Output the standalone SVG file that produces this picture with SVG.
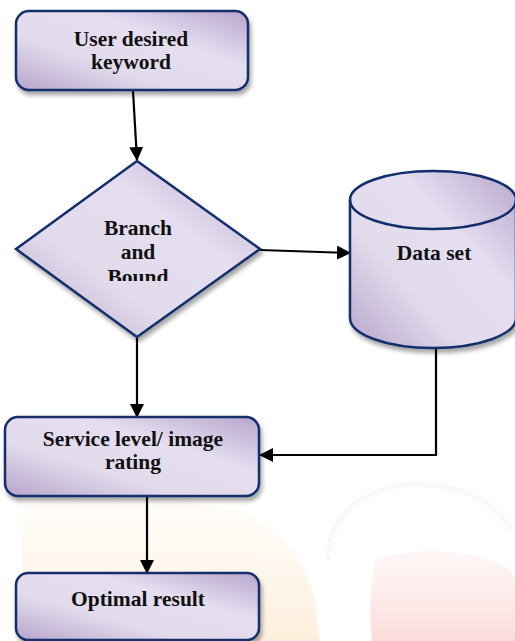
<svg xmlns="http://www.w3.org/2000/svg" width="515" height="641" viewBox="0 0 515 641">
<defs>
<linearGradient id="fillG" x1="0" y1="1" x2="1" y2="0">
<stop offset="0" stop-color="#b6a5cb"/>
<stop offset="0.35" stop-color="#e2dbec"/>
<stop offset="0.65" stop-color="#e4def0"/>
<stop offset="1" stop-color="#b6a5cb"/>
</linearGradient>
<linearGradient id="orG" x1="0" y1="0" x2="0" y2="1">
<stop offset="0" stop-color="#fdf1e0" stop-opacity="0.3"/>
<stop offset="1" stop-color="#fce6c8"/>
</linearGradient>
<linearGradient id="rdG" x1="0" y1="0" x2="0" y2="1">
<stop offset="0" stop-color="#fbe0de" stop-opacity="0.4"/>
<stop offset="1" stop-color="#f8c8c6"/>
</linearGradient>
<filter id="sh" x="-10%" y="-10%" width="125%" height="130%">
<feDropShadow dx="2" dy="4" stdDeviation="2" flood-color="#000" flood-opacity="0.35"/>
</filter>
<marker id="arrB" markerWidth="14" markerHeight="14" refX="13" refY="7" orient="auto" markerUnits="userSpaceOnUse" viewBox="0 0 14 14">
<path d="M0,0 L14,7 L0,14 z" fill="#000"/>
</marker>
<clipPath id="dclip"><rect x="0" y="150" width="300" height="131"/></clipPath>
</defs>
<style>
.shape{fill:url(#fillG);stroke:#122d6a;stroke-width:2.5;filter:url(#sh)}
.lbl{font-family:"Liberation Serif","Times New Roman",serif;font-weight:bold;font-size:21.5px;fill:#111;text-anchor:middle}
.con{fill:none;stroke:#000;stroke-width:2.2;marker-end:url(#arrB)}
</style>
<rect width="515" height="641" fill="#fff"/>
<g id="watermark" opacity="0.65">
<path d="M22,505 Q150,495 240,510 Q300,540 315,600 L320,641 L22,641 z" fill="url(#orG)"/>
<path d="M375,560 Q420,545 470,555 Q515,565 515,580 L515,641 L372,641 Q368,600 375,560 z" fill="url(#rdG)"/>
<path d="M328,560 Q330,500 400,485 Q480,480 512,530" fill="none" stroke="#e6e6e6" stroke-width="5" stroke-dasharray="1 2"/>
</g>
<g id="connectors">
<path class="con" d="M133,91 L137,160"/>
<path class="con" d="M260,250 L350,253"/>
<path class="con" d="M137,338 L137,417"/>
<path class="con" d="M436,349 L436,455 L260,455"/>
<path class="con" d="M147,497 L147,573"/>
</g>
<g id="n1">
<rect class="shape" x="16" y="11" width="232" height="79" rx="13"/>
<text class="lbl" x="131" y="46">User desired</text>
<text class="lbl" x="131" y="69">keyword</text>
</g>
<g id="n2">
<path class="shape" d="M137,161 L260,249 L137,337 L16,249 z"/>
<g clip-path="url(#dclip)">
<text class="lbl" x="138" y="235">Branch</text>
<text class="lbl" x="138" y="259">and</text>
<text class="lbl" x="138" y="284">Bound</text>
</g>
</g>
<g id="n3">
<path class="shape" d="M350,200 A83,29 0 0 1 516,200 L516,318 A83,30 0 0 1 350,318 z"/>
<path d="M350,200 A83,29 0 0 0 516,200" fill="none" stroke="#122d6a" stroke-width="2.5"/>
<text class="lbl" x="434" y="260">Data set</text>
</g>
<g id="n4">
<rect class="shape" x="5" y="417" width="254" height="79" rx="13"/>
<text class="lbl" x="133" y="446">Service level/ image</text>
<text class="lbl" x="133" y="469">rating</text>
</g>
<g id="n5">
<rect class="shape" x="16" y="573" width="243" height="67" rx="12"/>
<text class="lbl" x="138" y="606">Optimal result</text>
</g>
</svg>
